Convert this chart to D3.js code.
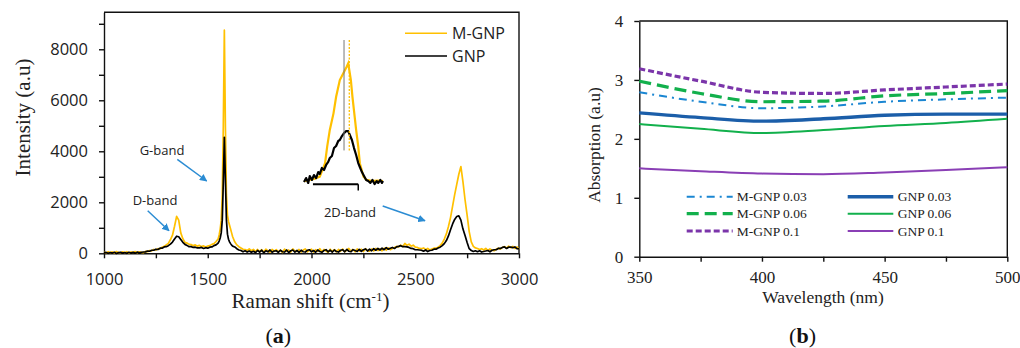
<!DOCTYPE html>
<html><head><meta charset="utf-8">
<script src="https://cdn.jsdelivr.net/npm/d3@7"></script>
<style>body{margin:0;background:#fff}svg{display:block}</style>
</head><body>
<svg id="c" width="1020" height="348"></svg>
<script>
// ---------- Panel (a): Raman spectra ----------
const ramanShift = [
1000,1010,1020,1030,1040,1050,1060,1070,1080,1090,
1100,1110,1120,1130,1140,1150,1160,1170,1180,1190,
1200,1210,1220,1230,1240,1250,1260,1270,1280,1290,
1300,1310,1320,1330,1340,1350,1360,1370,1380,1390,
1400,1410,1420,1430,1440,1450,1460,1470,1480,1490,
1500,1510,1520,1530,1540,1550,
1555,1560,1565,1570,1575,1580,1585,1590,1595,1600,1605,1610,1615,1620,
1630,1640,1650,1660,1670,1680,1690,1700,1710,1720,
1730,1740,1750,1760,1770,1780,1790,1800,1810,1820,
1830,1840,1850,1860,1870,1880,1890,1900,1910,1920,
1930,1940,1950,1960,1970,1980,1990,2000,2010,2020,
2030,2040,2050,2060,2070,2080,2090,2100,2110,2120,
2130,2140,2150,2160,2170,2180,2190,2200,2210,2220,
2230,2240,2250,2260,2270,2280,2290,2300,2310,2320,
2330,2340,2350,2360,2370,2380,2390,2400,2410,2420,
2430,2440,2450,2460,2470,2480,2490,2500,2510,2520,
2530,2540,2550,2560,2570,2580,2590,2600,2610,2620,
2630,2640,2650,2660,2670,2680,2690,2700,2710,2720,
2730,2740,2750,2760,2770,2780,2790,2800,2810,2820,
2830,2840,2850,2860,2870,2880,2890,2900,2910,2920,
2930,2940,2950,2960,2970,2980,2990,3000];
const intensityMGNP = [
40,15,65,25,55,10,70,30,20,60,
25,65,15,55,30,70,20,60,35,25,
75,60,110,95,150,130,180,175,240,270,
330,390,530,710,1060,1450,1300,800,570,430,
400,350,340,300,330,280,310,260,290,250,
280,300,350,380,460,560,
720,950,1300,2300,5000,8750,5000,2300,1500,1250,1100,950,800,650,
450,330,260,210,160,150,110,170,100,150,
70,150,60,140,50,160,90,40,150,80,
140,60,120,40,160,80,130,50,170,90,
70,150,50,130,170,60,120,160,50,140,
80,180,60,150,90,40,160,70,140,60,
150,80,170,60,130,190,80,150,60,170,
90,160,70,180,100,80,170,90,190,110,
170,100,200,120,210,140,190,230,270,250,
320,270,390,310,360,280,320,240,230,190,
180,210,140,190,130,170,200,200,240,300,
400,560,760,1050,1400,1850,2300,2700,3100,3400,
2800,2100,1500,850,450,270,210,190,150,180,
130,190,110,170,120,100,160,200,160,230,
260,200,280,220,270,190,250,160];
const intensityGNP = [
10,35,0,30,10,40,-5,25,35,5,
30,0,40,10,35,5,45,15,40,50,
55,90,80,120,120,160,150,200,200,250,
260,300,360,440,560,670,650,540,430,350,
310,260,260,230,240,210,210,230,190,220,
200,240,250,300,330,400,
480,600,800,1300,2800,4550,2900,1300,750,550,450,380,320,280,
250,180,130,110,60,100,50,90,40,80,
30,110,50,120,20,100,60,130,40,90,
100,40,120,60,50,130,30,100,130,50,
110,40,120,60,50,120,140,60,110,40,
130,70,40,110,140,60,120,50,130,70,
50,120,140,60,150,80,60,140,110,70,
150,80,140,170,90,160,100,180,120,190,
130,200,140,220,160,200,230,190,250,270,
300,260,260,250,230,190,180,140,140,130,
120,80,130,70,110,120,160,160,210,240,
300,380,500,680,920,1150,1330,1440,1470,1300,
950,700,420,180,110,70,100,60,100,50,
70,90,110,60,120,140,140,190,190,230,
250,190,240,240,220,250,180,170];
const ramanXTicks = [1000,1250,1500,1750,2000,2250,2500,2750,3000];
const ramanYTicks = [0,1000,2000,3000,4000,5000,6000,7000,8000,9000];
const ramanSeriesNames = ["M-GNP","GNP"];
const bandLabels = ["D-band","G-band","2D-band"];

// inset (G-band zoom)
const insetShiftM = [1500,1510,1519,1530,1540,1544,1549,1556,1561,1568,1581,1584,1589,1592,1599,1603,1606,1613,1619,1629,1639,1650];
const insetMGNP =   [60,130,190,340,1190,2240,3300,4350,5400,6460,7300,7520,6460,5400,3300,2240,1190,340,130,60,95,60];
const insetShiftG = [1500,1504,1508,1511,1515,1519,1523,1527,1530,1534,1538,1542,1546,1549,1553,1557,1561,1565,1568,1572,1576,1580,1584,1587,1591,1595,1599,1603,1606,1610,1614,1618,1622,1626,1630,1634,1638,1641,1645,1648,1650];
const insetGNP =    [0,250,-60,380,130,440,250,630,510,890,760,1080,1270,1520,1650,2150,2280,2600,2660,2910,3100,3230,3230,2980,2660,2150,1710,1200,950,630,380,130,60,-60,130,-130,60,-60,130,-60,60];
const insetPeakShift = [1576, 1586];

// ---------- Panel (b): absorption ----------
const wavelength = [350,375,400,425,450,475,500];
const absMGNP003 = [2.79,2.63,2.52,2.55,2.63,2.67,2.70];
const absMGNP006 = [2.98,2.77,2.63,2.64,2.73,2.77,2.82];
const absMGNP01  = [3.19,2.98,2.79,2.77,2.83,2.88,2.93];
const absGNP003  = [2.44,2.36,2.30,2.34,2.40,2.42,2.42];
const absGNP006  = [2.25,2.17,2.10,2.15,2.22,2.27,2.34];
const absGNP01   = [1.50,1.45,1.41,1.40,1.43,1.47,1.52];
const absNames = ["M-GNP 0.03","M-GNP 0.06","M-GNP 0.1","GNP 0.03","GNP 0.06","GNP 0.1"];
const absXTicks = [350,375,400,425,450,475,500];
const absYTicks = [0,1,2,3,4];

const svg = d3.select("#c");
const SERIF = "'Liberation Serif','Times New Roman',serif";
const SANS = "'Open Sans','Liberation Sans',sans-serif";

// ================= Panel (a) =================
const ax = d3.scaleLinear().domain([1000,3000]).range([104,519]);
const ay = d3.scaleLinear().domain([0,9450]).range([253.3,12.3]);
const gA = svg.append("g");

const xAxA = gA.append("g").attr("transform","translate(0,253.3)")
  .call(d3.axisBottom(ax).tickValues(ramanXTicks).tickSize(5).tickSizeOuter(0).tickPadding(15)
    .tickFormat(d => d % 500 === 0 ? d : ""));
const yAxA = gA.append("g").attr("transform","translate(104,0)")
  .call(d3.axisLeft(ay).tickValues(ramanYTicks).tickSize(5).tickSizeOuter(0).tickPadding(11)
    .tickFormat(d => d % 2000 === 0 ? d : ""));
[xAxA,yAxA].forEach(a=>{
  a.selectAll("path,line").attr("stroke","#111").attr("stroke-width",1.4);
  a.selectAll("text").attr("font-family",SANS).attr("font-size",16.5).attr("fill","#222");
});
gA.append("path").attr("d",`M${ax(1000)},${ay(9450)}H${ax(3000)}V${ay(0)}`)
  .attr("fill","none").attr("stroke","#111").attr("stroke-width",1.4);

const lineA = d3.line().x((d,i)=>ax(ramanShift[i])).y(d=>ay(d));
gA.append("path").datum(intensityMGNP).attr("d",lineA).attr("fill","none")
  .attr("stroke","#FFC000").attr("stroke-width",1.7).attr("stroke-linejoin","round");
gA.append("path").datum(intensityGNP).attr("d",lineA).attr("fill","none")
  .attr("stroke","#000").attr("stroke-width",1.7).attr("stroke-linejoin","round");

// legend (a)
const legA = [{c:"#FFC000",y:33.3},{c:"#000",y:56}];
ramanSeriesNames.forEach((n,i)=>{
  gA.append("line").attr("x1",405).attr("x2",447).attr("y1",legA[i].y).attr("y2",legA[i].y)
    .attr("stroke",legA[i].c).attr("stroke-width",1.6);
  gA.append("text").attr("x",452).attr("y",legA[i].y).attr("dy","0.35em")
    .attr("font-family",SANS).attr("font-size",16).attr("fill","#222").text(n);
});

// band annotations
const annPos = [{x:155,y:200.7,a:[147.7,210.7,169,230.7]},{x:162,y:150.7,a:[177.3,159.3,206.7,181]},{x:350,y:212,a:[382.7,206,425,220.7]}];
svg.append("defs").append("marker").attr("id","ah").attr("viewBox","0 0 10 10")
  .attr("refX",9).attr("refY",5).attr("markerWidth",5).attr("markerHeight",5)
  .attr("orient","auto").append("path").attr("d","M0,0L10,5L0,10Z").attr("fill","#2b8cd3");
bandLabels.forEach((t,i)=>{
  const p = annPos[i];
  gA.append("text").attr("x",p.x).attr("y",p.y).attr("dy","0.35em").attr("text-anchor","middle")
    .attr("font-family",SANS).attr("font-size",13).attr("fill","#222").text(t);
  gA.append("line").attr("x1",p.a[0]).attr("y1",p.a[1]).attr("x2",p.a[2]).attr("y2",p.a[3])
    .attr("stroke","#2b8cd3").attr("stroke-width",1.5).attr("marker-end","url(#ah)");
});

// inset
const ix = d3.scaleLinear().domain([1500,1650]).range([304,383]);
const iy = d3.scaleLinear().domain([0,9000]).range([182,40]);
const gI = gA.append("g");
gI.append("path").datum(insetMGNP).attr("d",d3.line().x((d,i)=>ix(insetShiftM[i])).y(d=>iy(d)))
  .attr("fill","none").attr("stroke","#FFC000").attr("stroke-width",2.2);
gI.append("path").datum(insetGNP).attr("d",d3.line().x((d,i)=>ix(insetShiftG[i])).y(d=>iy(d)))
  .attr("fill","none").attr("stroke","#000").attr("stroke-width",2.2).attr("stroke-linejoin","round");
gI.append("line").attr("x1",ix(insetPeakShift[0])).attr("x2",ix(insetPeakShift[0]))
  .attr("y1",iy(9000)).attr("y2",iy(2000)).attr("stroke","#777").attr("stroke-width",1);
gI.append("line").attr("x1",ix(insetPeakShift[1])).attr("x2",ix(insetPeakShift[1]))
  .attr("y1",iy(9000)).attr("y2",iy(2000)).attr("stroke","#FFC000").attr("stroke-width",1.3)
  .attr("stroke-dasharray","2,1.5");
gI.append("line").attr("x1",ix(1517)).attr("x2",ix(1603)).attr("y1",184.3).attr("y2",184.3)
  .attr("stroke","#000").attr("stroke-width",2);
gI.append("line").attr("x1",ix(1603)).attr("x2",ix(1603)).attr("y1",184.3).attr("y2",190.5)
  .attr("stroke","#000").attr("stroke-width",1.5);

// titles (a)
gA.append("text").attr("transform","translate(29.5,117.5) rotate(-90)").attr("text-anchor","middle")
  .attr("font-family",SERIF).attr("font-size",21).attr("fill","#222").text("Intensity (a.u)");
const xt = gA.append("text").attr("x",310.5).attr("y",308).attr("text-anchor","middle")
  .attr("font-family",SERIF).attr("font-size",21).attr("fill","#222");
xt.append("tspan").text("Raman shift (cm");
xt.append("tspan").attr("dy",-7).attr("font-size",13).text("-1");
xt.append("tspan").attr("dy",7).text(")");
const la = gA.append("text").attr("x",278.3).attr("y",343).attr("text-anchor","middle")
  .attr("font-family",SERIF).attr("font-size",22).attr("fill","#111");
la.append("tspan").text("(");
la.append("tspan").attr("font-weight","bold").text("a");
la.append("tspan").text(")");

// ================= Panel (b) =================
const bx = d3.scaleLinear().domain([350,500]).range([639.3,1007.3]);
const by = d3.scaleLinear().domain([0,4]).range([256.7,21]);
const gB = svg.append("g");
const xAxB = gB.append("g").attr("transform","translate(0,256.7)")
  .call(d3.axisBottom(bx).tickValues(absXTicks).tickSize(5).tickSizeOuter(0).tickPadding(9.5)
    .tickFormat(d => d % 50 === 0 ? d : ""));
const yAxB = gB.append("g").attr("transform","translate(639.3,0)")
  .call(d3.axisLeft(by).tickValues(absYTicks).tickSize(5).tickSizeOuter(0).tickPadding(11)
    .tickFormat(d3.format("d")));
[xAxB,yAxB].forEach(a=>{
  a.selectAll("path,line").attr("stroke","#111").attr("stroke-width",1.4);
  a.selectAll("text").attr("font-family",SERIF).attr("font-size",17).attr("fill","#222");
});
gB.append("path").attr("d",`M${bx(350)},${by(4)}H${bx(500)}V${by(0)}`)
  .attr("fill","none").attr("stroke","#111").attr("stroke-width",1.4);

const absSeries = [absMGNP003,absMGNP006,absMGNP01,absGNP003,absGNP006,absGNP01];
const absStyle = [
  {c:"#1a86d2",w:2,  d:"8,5,2,5"},
  {c:"#12b04c",w:3.2,d:"12,6"},
  {c:"#7b35aa",w:3.2,d:"6,3"},
  {c:"#1b5ea9",w:3.4,d:null},
  {c:"#12b04c",w:2,  d:null},
  {c:"#8a3fb5",w:2,  d:null}
];
const lineB = d3.line().x((d,i)=>bx(wavelength[i])).y(d=>by(d)).curve(d3.curveMonotoneX);
absSeries.forEach((s,k)=>{
  gB.append("path").datum(s).attr("d",lineB).attr("fill","none")
    .attr("stroke",absStyle[k].c).attr("stroke-width",absStyle[k].w)
    .attr("stroke-dasharray",absStyle[k].d);
});
const legCols = [{x1:686.7,x2:732.7,tx:736.7},{x1:847.7,x2:893.3,tx:897.7}];
const legRows = [196.7,213.7,231];
absNames.forEach((n,k)=>{
  const col = legCols[Math.floor(k/3)], y = legRows[k%3];
  gB.append("line").attr("x1",col.x1).attr("x2",col.x2).attr("y1",y).attr("y2",y)
    .attr("stroke",absStyle[k].c).attr("stroke-width",absStyle[k].w).attr("stroke-dasharray",absStyle[k].d);
  gB.append("text").attr("x",col.tx).attr("y",y).attr("dy","0.35em")
    .attr("font-family",SERIF).attr("font-size",13.5).attr("fill","#222").text(n);
});
gB.append("text").attr("transform","translate(599.8,145) rotate(-90)").attr("text-anchor","middle")
  .attr("font-family",SERIF).attr("font-size",17.5).attr("fill","#222").text("Absorption (a.u)");
gB.append("text").attr("x",823).attr("y",303.3).attr("text-anchor","middle")
  .attr("font-family",SERIF).attr("font-size",17.5).attr("fill","#222").text("Wavelength (nm)");
const lb = gB.append("text").attr("x",802.5).attr("y",343).attr("text-anchor","middle")
  .attr("font-family",SERIF).attr("font-size",22).attr("fill","#111");
lb.append("tspan").text("(");
lb.append("tspan").attr("font-weight","bold").text("b");
lb.append("tspan").text(")");
</script>
</body></html>
